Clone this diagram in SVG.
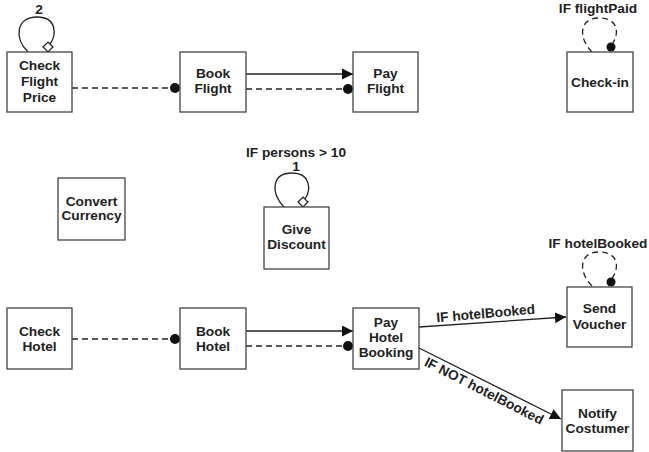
<svg xmlns="http://www.w3.org/2000/svg" width="649" height="452" viewBox="0 0 649 452">
<defs>
<style>
.box{fill:#fff;stroke:#444;stroke-width:1.3}
text{font-family:"Liberation Sans",Arial,sans-serif;font-weight:bold;font-size:13.7px;fill:#222;text-anchor:middle}
.ln{fill:none;stroke:#222;stroke-width:1.3}
.dash{fill:none;stroke:#222;stroke-width:1.3;stroke-dasharray:6,4}
.dot{fill:#111}
.dia{fill:#fff;stroke:#222;stroke-width:1.3}
</style>
<marker id="arr" viewBox="0 0 10 10" refX="10" refY="5" markerWidth="11" markerHeight="11" markerUnits="userSpaceOnUse" orient="auto">
<path d="M0,0 L10,5 L0,10 z" fill="#111"/>
</marker>
</defs>
<g id="connectors">
<line class="dash" x1="72" y1="88" x2="176" y2="88"/>
<circle class="dot" cx="175" cy="88" r="5"/>
<line class="ln" x1="246" y1="74" x2="353" y2="74" marker-end="url(#arr)"/>
<line class="dash" x1="246" y1="89" x2="349" y2="89"/>
<circle class="dot" cx="348" cy="89" r="5"/>
<line class="dash" x1="72" y1="339" x2="176" y2="339"/>
<circle class="dot" cx="175" cy="339" r="5"/>
<line class="ln" x1="246" y1="331" x2="353" y2="331" marker-end="url(#arr)"/>
<line class="dash" x1="246" y1="346" x2="349" y2="346"/>
<circle class="dot" cx="348" cy="346" r="5"/>
<line class="ln" x1="419" y1="327" x2="566" y2="317" marker-end="url(#arr)"/>
<text transform="translate(486,318) rotate(-5)">IF hotelBooked</text>
<line class="ln" x1="419" y1="348" x2="561" y2="419" marker-end="url(#arr)"/>
<text transform="translate(482,395) rotate(27)">IF NOT hotelBooked</text>
<path class="ln" d="M28,52 C14,38 16,17 37,17 C58,17 56,36 50,44"/>
<rect class="dia" x="-3.5" y="-3.5" width="7" height="7" transform="translate(48,47) rotate(45)"/>
<text x="39" y="14">2</text>
<path class="ln" d="M284,207 C270,192 272,173 292,173 C311,173 311,190 305,199"/>
<rect class="dia" x="-3.5" y="-3.5" width="7" height="7" transform="translate(303,202) rotate(45)"/>
<text x="296" y="157">IF persons &gt; 10</text>
<text x="296" y="171">1</text>
<path class="dash" d="M592,52 C578,38 579,18 599,18 C619,18 620,34 611,46"/>
<circle class="dot" cx="611" cy="47" r="4.5"/>
<text x="598" y="13">IF flightPaid</text>
<path class="dash" d="M592,286 C578,272 579,252 599,252 C619,252 620,268 611,280"/>
<circle class="dot" cx="611" cy="282" r="4.5"/>
<text x="598" y="248">IF hotelBooked</text>
</g>
<g id="checkFlightPrice"><rect class="box" x="7" y="52" width="65" height="60"/><text x="39.5" y="70">Check</text><text x="39.5" y="86">Flight</text><text x="39.5" y="102">Price</text></g>
<g id="bookFlight"><rect class="box" x="180" y="52" width="66" height="60"/><text x="213" y="78">Book</text><text x="213" y="93">Flight</text></g>
<g id="payFlight"><rect class="box" x="353" y="52" width="65" height="60"/><text x="385.5" y="78">Pay</text><text x="385.5" y="93">Flight</text></g>
<g id="checkIn"><rect class="box" x="567" y="52" width="66" height="60"/><text x="600" y="87">Check-in</text></g>
<g id="convertCurrency"><rect class="box" x="58" y="178" width="67" height="62"/><text x="91.5" y="206">Convert</text><text x="91.5" y="220">Currency</text></g>
<g id="giveDiscount"><rect class="box" x="264" y="207" width="65" height="62"/><text x="296.5" y="234">Give</text><text x="296.5" y="249">Discount</text></g>
<g id="checkHotel"><rect class="box" x="7" y="308" width="65" height="61"/><text x="39.5" y="336">Check</text><text x="39.5" y="351">Hotel</text></g>
<g id="bookHotel"><rect class="box" x="180" y="308" width="66" height="61"/><text x="213" y="336">Book</text><text x="213" y="351">Hotel</text></g>
<g id="payHotelBooking"><rect class="box" x="353" y="308" width="66" height="61"/><text x="386" y="327">Pay</text><text x="386" y="342">Hotel</text><text x="386" y="357">Booking</text></g>
<g id="sendVoucher"><rect class="box" x="567" y="287" width="65" height="60"/><text x="599.5" y="313">Send</text><text x="599.5" y="329">Voucher</text></g>
<g id="notifyCostumer"><rect class="box" x="562" y="390" width="71" height="61"/><text x="597.5" y="418">Notify</text><text x="597.5" y="433">Costumer</text></g>
</svg>
